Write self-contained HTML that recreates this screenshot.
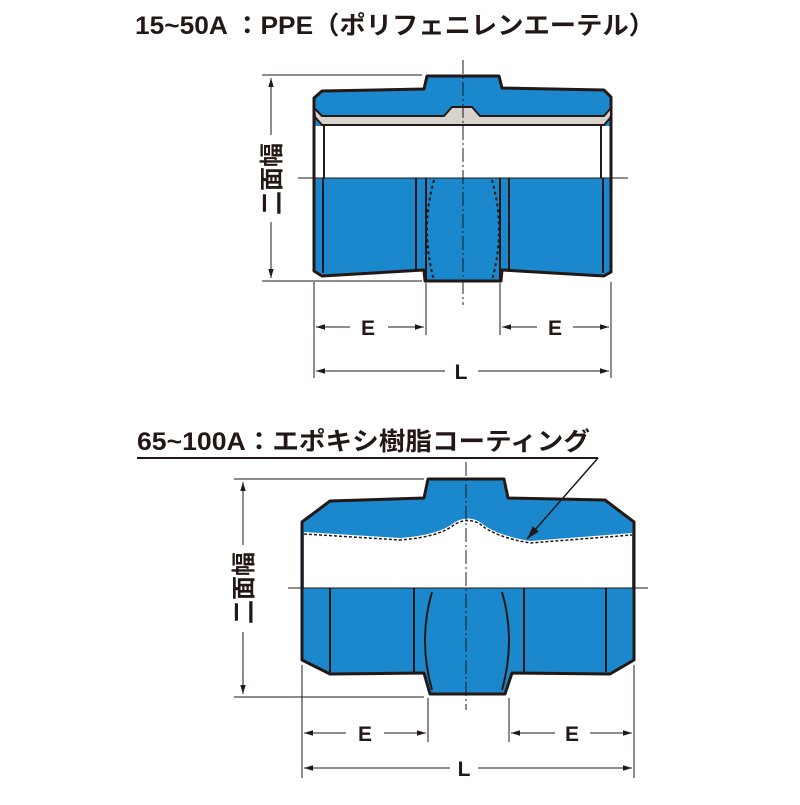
<!DOCTYPE html>
<html><head><meta charset="utf-8"><style>
body{margin:0;background:#fff;width:800px;height:800px;overflow:hidden}
svg text{font-family:"Liberation Sans","Noto Sans CJK JP",sans-serif;font-weight:bold;fill:#231815}
</style></head><body>
<svg width="800" height="800" viewBox="0 0 800 800" xmlns="http://www.w3.org/2000/svg">
<defs>
<marker id="a" viewBox="0 0 10 10" refX="10" refY="5" markerWidth="9" markerHeight="9" orient="auto-start-reverse"><path d="M0,2 L10,5 L0,8 z" fill="#231815"/></marker>
</defs>
<text x="135" y="34" font-size="25" textLength="520" lengthAdjust="spacingAndGlyphs">15~50A ：PPE（ポリフェニレンエーテル）</text>
<!-- TOP FIGURE -->
<g stroke="#231815" stroke-width="3" stroke-linejoin="round">
<path d="M314,98 L322,91 L424,89 L427,76 L499,76 L502,88 L604,90 L611,97 L611,272 L604,276 L502,270 L501,281 L425,281 L424,270 L322,276 L314,271 Z" fill="#1b87cc"/>
<path d="M314,108 L315,117 L322,125 L604,125 L611,117 L611,108 L604,116 L480,116 L472,107 L452,107 L444,116 L322,116 Z" fill="#d8d2cd" stroke-width="2"/>
<rect x="315" y="126" width="296" height="52" fill="#fff" stroke="none"/>
<line x1="314" y1="116" x2="314" y2="178"/><line x1="611" y1="116" x2="611" y2="178"/>
<line x1="324" y1="126" x2="324" y2="178" stroke-width="2"/><line x1="601" y1="126" x2="601" y2="178" stroke-width="2"/>
<line x1="322" y1="125" x2="604" y2="125" stroke-width="2"/>
<line x1="323" y1="178" x2="323" y2="273" stroke-width="2"/><line x1="603" y1="178" x2="603" y2="273" stroke-width="2"/>
<line x1="416" y1="178" x2="416" y2="270" stroke-width="2"/><line x1="509" y1="178" x2="509" y2="270" stroke-width="2"/>
<line x1="426" y1="178" x2="426" y2="280" stroke-width="2"/><line x1="500" y1="178" x2="500" y2="280" stroke-width="2"/>
<path d="M434,180 Q420,230 434,280 M492,180 Q506,230 492,280" fill="none" stroke-width="2" stroke-dasharray="3,3"/>
</g>
<g stroke="#231815" stroke-width="1" fill="none">
<line x1="463" y1="60" x2="463" y2="305" stroke-dasharray="14,3,2,3"/>
<line x1="298" y1="178" x2="628" y2="178"/>
<line x1="262" y1="75" x2="422" y2="75"/><line x1="262" y1="281" x2="422" y2="281"/>
<line x1="271" y1="78" x2="271" y2="135" marker-start="url(#a)"/><line x1="271" y1="222" x2="271" y2="278" marker-end="url(#a)"/>
<line x1="314" y1="282" x2="314" y2="378"/><line x1="611" y1="282" x2="611" y2="378"/>
<line x1="426" y1="283" x2="426" y2="335"/><line x1="500" y1="283" x2="500" y2="335"/>
<line x1="316" y1="327" x2="350" y2="327" marker-start="url(#a)"/><line x1="388" y1="327" x2="424" y2="327" marker-end="url(#a)"/>
<line x1="502" y1="327" x2="537" y2="327" marker-start="url(#a)"/><line x1="573" y1="327" x2="609" y2="327" marker-end="url(#a)"/>
<line x1="316" y1="371" x2="445" y2="371" marker-start="url(#a)"/><line x1="478" y1="371" x2="609" y2="371" marker-end="url(#a)"/>
</g>
<text transform="translate(280,179) rotate(-90)" font-size="24" text-anchor="middle">二面幅</text>
<text x="368" y="335" font-size="21" text-anchor="middle">E</text>
<text x="555" y="335" font-size="21" text-anchor="middle">E</text>
<text x="461" y="379" font-size="21" text-anchor="middle">L</text>

<!-- BOTTOM FIGURE -->
<text x="137" y="450" font-size="25" textLength="453" lengthAdjust="spacingAndGlyphs">65~100A：エポキシ樹脂コーティング</text>
<line x1="137" y1="458" x2="598" y2="458" stroke="#231815" stroke-width="2"/>
<g stroke="#231815" stroke-width="3" stroke-linejoin="round">
<path d="M302,522 L330,501 L424,498 L428,479 L504,479 L508,498 L605,500 L634,522 L634,660 L610,674 L512,673 L505,694 L430,694 L424,673 L330,674 L302,660 Z" fill="#1b87cc"/>
<path d="M304,532 L400,538 Q440,535 455,522 Q468,515 480,522 Q495,535 530,541 L632,533 L632,588 L304,588 Z" fill="#fff" stroke="none"/>
<path d="M304,534 L400,540 Q440,537 455,524 Q468,517 480,524 Q495,537 530,543 L632,535" fill="none" stroke-width="1.5" stroke-dasharray="3,2"/>
<line x1="302" y1="522" x2="302" y2="660"/><line x1="634" y1="522" x2="634" y2="660"/>
<line x1="330" y1="588" x2="330" y2="672" stroke-width="2"/><line x1="606" y1="588" x2="606" y2="672" stroke-width="2"/>
<line x1="414" y1="588" x2="414" y2="673" stroke-width="2"/><line x1="524" y1="588" x2="524" y2="673" stroke-width="2"/>
<path d="M432,592 Q418,640 432,690 M502,592 Q516,640 502,690" fill="none" stroke-width="2"/>
</g>
<g stroke="#231815" stroke-width="1" fill="none">
<line x1="466" y1="462" x2="466" y2="710" stroke-dasharray="14,3,2,3"/>
<line x1="288" y1="588" x2="648" y2="588"/>
<line x1="598" y1="458" x2="527" y2="539" stroke-width="1.5" marker-end="url(#a)"/>
<line x1="234" y1="479" x2="424" y2="479"/><line x1="234" y1="697" x2="424" y2="697"/>
<line x1="243" y1="482" x2="243" y2="545" marker-start="url(#a)"/><line x1="243" y1="632" x2="243" y2="694" marker-end="url(#a)"/>
<line x1="302" y1="665" x2="302" y2="778"/><line x1="634" y1="665" x2="634" y2="778"/>
<line x1="428" y1="698" x2="428" y2="742"/><line x1="509" y1="698" x2="509" y2="742"/>
<line x1="304" y1="733" x2="346" y2="733" marker-start="url(#a)"/><line x1="384" y1="733" x2="426" y2="733" marker-end="url(#a)"/>
<line x1="511" y1="733" x2="555" y2="733" marker-start="url(#a)"/><line x1="590" y1="733" x2="632" y2="733" marker-end="url(#a)"/>
<line x1="304" y1="768" x2="450" y2="768" marker-start="url(#a)"/><line x1="478" y1="768" x2="632" y2="768" marker-end="url(#a)"/>
</g>
<text transform="translate(252,588) rotate(-90)" font-size="24" text-anchor="middle">二面幅</text>
<text x="365" y="741" font-size="21" text-anchor="middle">E</text>
<text x="572" y="741" font-size="21" text-anchor="middle">E</text>
<text x="464" y="776" font-size="21" text-anchor="middle">L</text>
</svg>
</body></html>
